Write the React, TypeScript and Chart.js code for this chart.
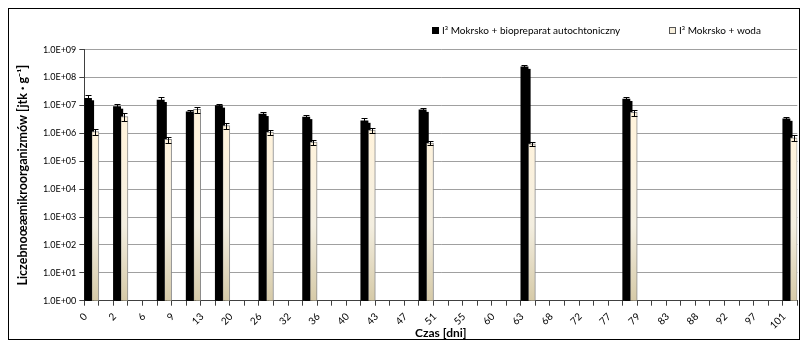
import React, { useEffect, useRef } from "react";
import { Chart, registerables } from "chart.js";

Chart.register(...registerables);

// Category axis (days); every second one is labelled
const categories = [
  "0", "1", "2", "4", "6", "8", "9", "11", "13", "16",
  "20", "23", "26", "29", "32", "34", "36", "38", "40", "42",
  "43", "45", "47", "49", "51", "53", "55", "57", "60", "62",
  "63", "65", "68", "70", "72", "75", "77", "78", "79", "81",
  "83", "85", "88", "90", "92", "95", "97", "99", "101",
];

// Sampling days that carry measurements
const sampleDays = ["0", "2", "8", "11", "16", "26", "34", "42", "49", "63", "78", "101"];

const seriesNames = ["I³ Mokrsko + biopreparat autochtoniczny", "I³ Mokrsko + woda"];

const blackValues = [1.8e7, 9e6, 1.56e7, 5.9e6, 9.8e6, 4.9e6, 3.8e6, 2.8e6, 6.9e6, 2.4e8, 1.7e7, 3.3e6];
const blackErrors = [5e6, 2e6, 3.9e6, 1e6, 1.8e6, 1e6, 7e5, 7e5, 1.45e6, 4.3e7, 3e6, 7e5];
const woodValues = [1.15e6, 4e6, 6.1e5, 7.2e6, 1.9e6, 1.1e6, 4.8e5, 1.3e6, 4.5e5, 4.2e5, 5.6e6, 6.9e5];
const woodErrors = [2.5e5, 1.3e6, 1.5e5, 1.7e6, 4.6e5, 2.3e5, 1e5, 2.7e5, 8e4, 7.5e4, 1.3e6, 1.7e5];

const yTickValues = [1, 1e1, 1e2, 1e3, 1e4, 1e5, 1e6, 1e7, 1e8, 1e9];

const FONT = "Lato, 'Open Sans', sans-serif";

function spread(values: number[]): (number | null)[] {
  return categories.map((c) => {
    const i = sampleDays.indexOf(c);
    return i >= 0 ? values[i] : null;
  });
}

const blackData = spread(blackValues);
const blackErr = spread(blackErrors);
const woodData = spread(woodValues);
const woodErr = spread(woodErrors);

// Shadow of the black bars, drawn underneath all datasets
const shadowPlugin = {
  id: "barShadow",
  beforeDatasetsDraw(chart: any) {
    const ctx = chart.ctx;
    const meta = chart.getDatasetMeta(0);
    ctx.save();
    ctx.fillStyle = "#000";
    meta.data.forEach((el: any, i: number) => {
      if (chart.data.datasets[0].data[i] == null) return;
      const { x, y, base, width } = el.getProps(["x", "y", "base", "width"], true);
      ctx.fillRect(x - width / 2 + 2.5, y + 2, width, base - y - 2);
    });
    ctx.restore();
  },
};

const errorBarPlugin = {
  id: "errorBars",
  afterDatasetsDraw(chart: any) {
    const ctx = chart.ctx;
    const yScale = chart.scales.y;
    const errs = [blackErr, woodErr];
    chart.data.datasets.forEach((ds: any, di: number) => {
      const meta = chart.getDatasetMeta(di);
      meta.data.forEach((el: any, i: number) => {
        const v = ds.data[i];
        const e = errs[di][i];
        if (v == null || e == null) return;
        const x = Math.round(el.x) + 0.5;
        const yt = Math.round(yScale.getPixelForValue(v + e)) + 0.5;
        const yb = Math.round(yScale.getPixelForValue(Math.max(v - e, 1))) + 0.5;
        ctx.save();
        ctx.strokeStyle = "#000";
        ctx.lineWidth = 1;
        ctx.beginPath();
        ctx.moveTo(x, yt);
        ctx.lineTo(x, yb);
        ctx.moveTo(x - 3, yt);
        ctx.lineTo(x + 3, yt);
        ctx.moveTo(x - 3, yb);
        ctx.lineTo(x + 3, yb);
        ctx.stroke();
        ctx.restore();
      });
    });
  },
};

const legendPlugin = {
  id: "customLegend",
  afterDraw(chart: any) {
    const ctx = chart.ctx;
    ctx.save();
    ctx.font = `10px ${FONT}`;
    ctx.textBaseline = "middle";
    ctx.textAlign = "left";
    const cy = 21.5;
    ctx.fillStyle = "#000";
    ctx.fillRect(423, cy - 3.5, 7, 7);
    ctx.fillText(seriesNames[0], 433, cy);
    ctx.fillStyle = "#f7efdc";
    ctx.fillRect(660, cy - 3.5, 7, 7);
    ctx.strokeStyle = "#555";
    ctx.lineWidth = 1;
    ctx.strokeRect(660.5, cy - 3, 6, 6);
    ctx.fillStyle = "#000";
    ctx.fillText(seriesNames[1], 670, cy);
    ctx.restore();
  },
};

function woodGradient(context: any) {
  const chart = context.chart;
  const area = chart.chartArea;
  if (!area) return "#f5eedc";
  const g = chart.ctx.createLinearGradient(0, area.top, 0, area.bottom);
  g.addColorStop(0, "#fff3da");
  g.addColorStop(0.35, "#fff3dc");
  g.addColorStop(0.7, "#f3eee0");
  g.addColorStop(1, "#d6caa8");
  return g;
}

export default function App() {
  const ref = useRef<HTMLCanvasElement | null>(null);

  useEffect(() => {
    if (!ref.current) return;
    const chart = new Chart(ref.current, {
      type: "bar",
      data: {
        labels: categories,
        datasets: [
          {
            label: seriesNames[0],
            data: blackData,
            backgroundColor: "#000",
            borderWidth: 0,
            categoryPercentage: 1,
            barPercentage: 1,
          },
          {
            label: seriesNames[1],
            data: woodData,
            backgroundColor: woodGradient,
            borderColor: "#8a8a8a",
            borderWidth: 1,
            categoryPercentage: 1,
            barPercentage: 1,
          },
        ],
      },
      options: {
        animation: false,
        responsive: false,
        layout: { padding: { top: 40.6, right: 1.7, left: 0, bottom: 0 } },
        plugins: {
          legend: { display: false },
          tooltip: { enabled: false },
        },
        scales: {
          x: {
            grid: {
              offset: true,
              drawOnChartArea: false,
              drawTicks: true,
              tickLength: 5,
              tickColor: "#404040",
            },
            border: { color: "#404040" },
            ticks: {
              autoSkip: false,
              maxRotation: 45,
              minRotation: 45,
              labelOffset: -6,
              padding: 5,
              color: "#000",
              font: { family: FONT, size: 10 },
              callback: (_v: any, i: number) => (i % 2 === 0 ? categories[i] : ""),
            },
            title: {
              display: true,
              text: "Czas [dni]",
              color: "#000",
              font: { family: FONT, size: 12, weight: "bold", lineHeight: 1 },
              padding: { top: 0, bottom: 0 },
            },
            afterFit(scale: any) {
              scale.height = 38.3;
              scale.paddingLeft = 0;
              scale.paddingRight = 0;
            },
          },
          y: {
            type: "logarithmic",
            min: 1,
            max: 1e9,
            grid: {
              color: "#a0a0a0",
              tickLength: 5,
              tickColor: "#404040",
            },
            border: { color: "#404040" },
            ticks: {
              padding: 3,
              color: "#000",
              font: { family: FONT, size: 9 },
              callback: (v: any) => {
                const e = Math.round(Math.log10(Number(v)));
                return "1.0E+" + String(e).padStart(2, "0");
              },
            },
            afterBuildTicks(scale: any) {
              scale.ticks = yTickValues.map((v) => ({ value: v }));
            },
            title: {
              display: true,
              text: "Liczebnoœæmikroorganizmów [jtk · g⁻¹]",
              color: "#000",
              font: { family: FONT, size: 12.5, weight: "bold" },
              padding: { top: 6, bottom: 0 },
            },
            afterFit(scale: any) {
              scale.width = 75.3;
              scale.paddingTop = 0;
              scale.paddingBottom = 0;
            },
          },
        },
      },
      plugins: [shadowPlugin, errorBarPlugin, legendPlugin],
    });
    return () => chart.destroy();
  }, []);

  return (
    <div style={{ border: "1px solid #000", width: 790, height: 330 }}>
      <canvas ref={ref} width={790} height={330} style={{ display: "block" }} />
    </div>
  );
}
